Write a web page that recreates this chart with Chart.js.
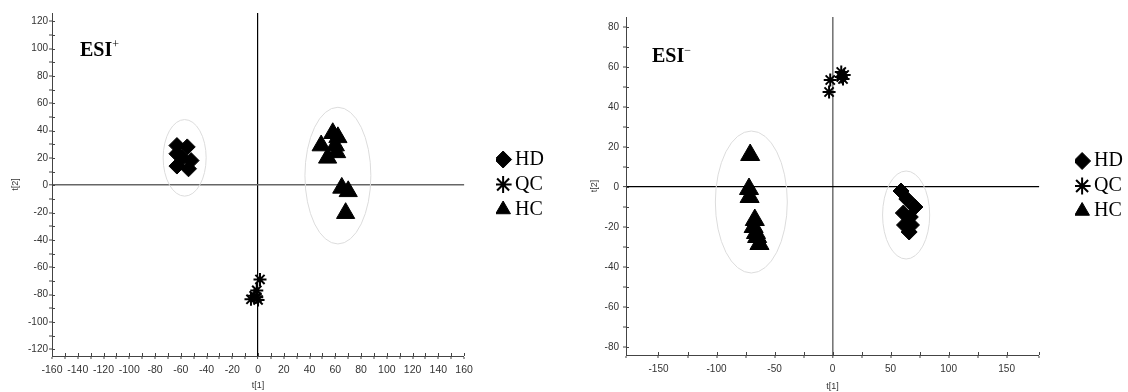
<!DOCTYPE html>
<html><head><meta charset="utf-8">
<script src="https://cdn.jsdelivr.net/npm/chart.js@4.4.1/dist/chart.umd.min.js"></script>
<style>
html,body{margin:0;padding:0;background:#fff;overflow:hidden;width:1128px;height:392px;}
#wrap{position:relative;width:1128px;height:392px;overflow:hidden;}
canvas{position:absolute;top:0;}
.esi{position:absolute;font:bold 20px 'Liberation Serif','Times New Roman',serif;line-height:20px;color:#000;white-space:nowrap;}
.esi span{font-size:12px;position:relative;top:-8px;font-weight:normal;}
</style></head><body>
<div id="wrap">
<canvas id="c1" width="560" height="392" style="left:0"></canvas>
<canvas id="c2" width="574" height="392" style="left:560px"></canvas>
<div class="esi" style="left:80px;top:39px">ESI<span>+</span></div>
<div class="esi" style="left:652px;top:45px">ESI<span>−</span></div>
</div>
<script>
// ---------- DATA ----------
const groups = ['HD', 'QC', 'HC'];

// ESI+ panel (t[1], t[2])
const posHD = [[-63,29],[-55,28],[-63,23],[-59,20],[-52,18],[-63,14],[-54,12]];
const posQC = [[1.5,-69],[-1,-77],[-5.5,-83.5],[-1,-82],[-3,-81],[0,-84]];
const posHC = [[58,38],[62,35],[49,29],[60,29],[54,20],[61,24],[65,-2],[70,-4.5],[68,-20.5]];
const posEllipses = [[-57,20,16.7,28],[62,7,25.6,50]]; // cx, cy, rx, ry

// ESI- panel
const negHD = [[59,-2],[64,-6],[71,-10],[61,-13],[67,-15],[62,-19],[68,-19],[66,-22.5]];
const negQC = [[-3,47.5],[-2,53.5],[7.5,57.5],[7.5,55],[10,56],[9,54]];
const negHC = [[-71,16],[-72,-1],[-71.5,-5],[-67,-16.5],[-68,-20],[-66,-23],[-65,-25],[-63,-28.5]];
const negEllipses = [[-70,-7.5,31,35.5],[63.4,-14,20.3,22]];

// tick labels
const posXLabels = [-160,-140,-120,-100,-80,-60,-40,-20,0,20,40,60,80,100,120,140,160];
const posYLabels = [-120,-100,-80,-60,-40,-20,0,20,40,60,80,100,120];
const negXLabels = [-150,-100,-50,0,50,100,150];
const negYLabels = [-80,-60,-40,-20,0,20,40,60,80];

// ---------- PLUGINS ----------
const ellipsePlugin = {
  id: 'ellipses',
  beforeDatasetsDraw(chart, args, opts) {
    const {ctx, scales: {x, y}} = chart;
    ctx.save();
    ctx.strokeStyle = opts.color || '#ddd';
    ctx.lineWidth = 1;
    (opts.items || []).forEach(e => {
      const cx = x.getPixelForValue(e[0]), cy = y.getPixelForValue(e[1]);
      const rx = Math.abs(x.getPixelForValue(e[0] + e[2]) - cx);
      const ry = Math.abs(y.getPixelForValue(e[1] + e[3]) - cy);
      ctx.beginPath();
      ctx.ellipse(cx, cy, rx, ry, 0, 0, Math.PI * 2);
      ctx.stroke();
    });
    ctx.restore();
  }
};
const crossTicks = {
  id: 'crossTicks',
  afterDatasetsDraw(chart, args, opts) {
    const {ctx, chartArea: a, scales: {x, y}} = chart;
    const len = opts.len || 3;
    ctx.save();
    ctx.strokeStyle = opts.color || '#444';
    ctx.lineWidth = 1;
    ctx.beginPath();
    x.ticks.forEach(t => {
      const px = Math.round(x.getPixelForValue(t.value)) + 0.5;
      ctx.moveTo(px, a.bottom); ctx.lineTo(px, a.bottom - len);
    });
    y.ticks.forEach(t => {
      const py = Math.round(y.getPixelForValue(t.value)) + 0.5;
      ctx.moveTo(a.left, py); ctx.lineTo(a.left + len, py);
    });
    ctx.stroke();
    ctx.restore();
  }
};

const SANS = "'Liberation Sans', Arial, sans-serif";
const SERIF = "'Liberation Serif', 'Times New Roman', serif";
const AX = '#444';

function toPts(arr) { return arr.map(p => ({x: p[0], y: p[1]})); }

function datasets(hd, qc, hc, triR) {
  return [
    {label: groups[0], data: toPts(hd), pointStyle: 'rectRot', pointRadius: 8,
     backgroundColor: '#000', borderColor: '#000', borderWidth: 1},
    {label: groups[1], data: toPts(qc), pointStyle: 'star', pointRadius: 6.5,
     backgroundColor: '#000', borderColor: '#000', borderWidth: 2},
    {label: groups[2], data: toPts(hc), pointStyle: 'triangle', pointRadius: triR,
     backgroundColor: '#000', borderColor: '#000', borderWidth: 1}
  ];
}

function makeChart(id, o) {
  const zeroGrid = (col, w) => ({
    drawOnChartArea: true, drawTicks: true, tickLength: 3, tickColor: AX, tickWidth: 1,
    color: c => (c.tick && c.tick.value === 0) ? col : 'rgba(0,0,0,0)',
    lineWidth: c => (c.tick && c.tick.value === 0) ? w : 0
  });
  return new Chart(document.getElementById(id), {
    type: 'scatter',
    data: {datasets: datasets(o.hd, o.qc, o.hc, o.triR)},
    options: {
      responsive: false, animation: false, devicePixelRatio: 1,
      layout: {padding: {top: o.padTop, right: o.padRight, bottom: 0, left: 0}},
      plugins: {
        tooltip: {enabled: false},
        legend: {
          position: 'right', fullSize: false, align: 'center',
          labels: {usePointStyle: true, boxWidth: 4, boxHeight: 12, padding: 5, color: '#000',
                   font: {family: SERIF, size: 20}}
        },
        ellipses: {items: o.ellipses, color: '#dcdcdc'},
        crossTicks: {len: 3, color: AX}
      },
      scales: {
        x: {
          type: 'linear', position: 'bottom', min: o.xMin, max: o.xMax,
          border: {display: true, color: AX, width: 1},
          grid: zeroGrid(o.vZeroColor, o.vZeroWidth),
          ticks: {stepSize: o.xStep, autoSkip: false, maxRotation: 0, padding: o.xPad,
                  color: '#333', font: {family: SANS, size: o.xFont},
                  callback: v => o.xLabels.includes(v) ? String(v) : ''},
          title: {display: true, text: 't[1]', color: '#333', font: {family: SANS, size: 9},
                  padding: {top: 0, bottom: o.xTitlePad}},
          afterFit: s => { s.height = o.xH; }
        },
        y: {
          type: 'linear', position: 'left', min: o.yMin, max: o.yMax,
          border: {display: true, color: AX, width: 1},
          grid: zeroGrid(o.hZeroColor, o.hZeroWidth),
          ticks: {stepSize: 10, includeBounds: false, autoSkip: false, padding: o.yPad,
                  color: '#333', font: {family: SANS, size: 10},
                  callback: v => o.yLabels.includes(v) ? String(v) : ''},
          title: {display: true, text: 't[2]', color: '#333', font: {family: SANS, size: 9},
                  padding: {top: o.yTitlePad, bottom: 0}},
          afterFit: s => { s.width = o.yW; }
        },
        gap: {
          type: 'linear', position: 'right', display: true,
          grid: {display: false}, border: {display: false}, ticks: {display: false},
          afterFit: s => { s.width = o.gapW; }
        }
      }
    },
    plugins: [ellipsePlugin, crossTicks]
  });
}

makeChart('c1', {
  hd: posHD, qc: posQC, hc: posHC, triR: 10.5, ellipses: posEllipses,
  xMin: -160, xMax: 160, xStep: 10, xLabels: posXLabels, xFont: 10.5, xPad: 5,
  yMin: -125, yMax: 126, yLabels: posYLabels, yPad: 1,
  padTop: 13, padRight: 6, xH: 36, yW: 52, gapW: 32, xTitlePad: 1, yTitlePad: 10,
  vZeroColor: '#000', vZeroWidth: 1.2, hZeroColor: '#666', hZeroWidth: 1.6
});

makeChart('c2', {
  hd: negHD, qc: negQC, hc: negHC, triR: 11, ellipses: negEllipses,
  xMin: -178, xMax: 178, xStep: 25, xLabels: negXLabels, xFont: 10, xPad: 5,
  yMin: -84, yMax: 85, yLabels: negYLabels, yPad: 4,
  padTop: 17, padRight: 1, xH: 37, yW: 66, gapW: 36, xTitlePad: 0, yTitlePad: 29.6,
  vZeroColor: '#777', vZeroWidth: 1.6, hZeroColor: '#000', hZeroWidth: 1.2
});
</script>
</body></html>
